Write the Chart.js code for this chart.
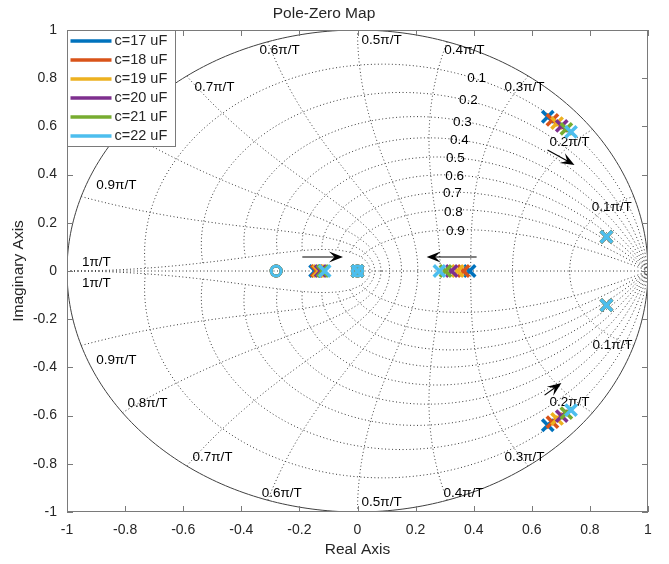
<!DOCTYPE html>
<html>
<head>
<meta charset="utf-8">
<title>Pole-Zero Map</title>
<script src="https://cdn.jsdelivr.net/npm/chart.js@4.4.1/dist/chart.umd.min.js"></script>
<style>
  body { margin: 0; background: #fff; }
  canvas { display: block; }
</style>
</head>
<body>
<canvas id="pz" width="669" height="564"></canvas>
<script>
// values
const seriesLabels = ['c=17 uF', 'c=18 uF', 'c=19 uF', 'c=20 uF', 'c=21 uF', 'c=22 uF'];
const seriesColors = ['#0072BD', '#D95319', '#EDB120', '#7E2F8E', '#77AC30', '#4DBEEE'];

// poles that move with c
const realPole1 = [0.386, 0.365, 0.345, 0.324, 0.303, 0.282];
const realPole2 = [-0.146, -0.140, -0.134, -0.127, -0.120, -0.113];
const cplxPoleRe = [0.655, 0.671, 0.687, 0.703, 0.719, 0.735];
const cplxPoleIm = [0.640, 0.627, 0.614, 0.602, 0.590, 0.577];
// poles and zeros shared by every c
const fixedPoleRe = [0.857, 0.857, 0];
const fixedPoleIm = [0.142, -0.142, 0];
const zeroRe = [0, -0.28];
const zeroIm = [0, 0];

const axisTicks = [-1, -0.8, -0.6, -0.4, -0.2, 0, 0.2, 0.4, 0.6, 0.8, 1];

// zgrid: damping ratios and natural frequencies (multiples of pi/T)
const zetaGrid = [0.1, 0.2, 0.3, 0.4, 0.5, 0.6, 0.7, 0.8, 0.9];
const wnGrid = [0.1, 0.2, 0.3, 0.4, 0.5, 0.6, 0.7, 0.8, 0.9, 1];
const wnLabels = ['0.1π/T', '0.2π/T', '0.3π/T', '0.4π/T', '0.5π/T', '0.6π/T', '0.7π/T', '0.8π/T', '0.9π/T', '1π/T'];
const wnUpperX = [0.875, 0.73, 0.575, 0.368, 0.083, -0.268, -0.492, -0.72, -0.83, -0.899];
const wnUpperY = [0.266, 0.535, 0.764, 0.917, 0.959, 0.917, 0.764, 0.535, 0.357, 0.037];
const wnLowerX = [0.878, 0.73, 0.575, 0.365, 0.083, -0.261, -0.499, -0.723, -0.83, -0.899];
const wnLowerY = [-0.307, -0.544, -0.772, -0.921, -0.959, -0.921, -0.772, -0.548, -0.369, -0.05];
const zetaLabelX = [0.410, 0.382, 0.361, 0.351, 0.337, 0.334, 0.327, 0.330, 0.337];
const zetaLabelY = [0.801, 0.710, 0.618, 0.544, 0.469, 0.394, 0.324, 0.245, 0.166];

// arrows showing the direction of movement as c grows
const arrowFrom = [[-0.19, 0.058], [0.41, 0.058], [0.654, 0.502], [0.644, -0.515]];
const arrowTo = [[-0.05, 0.058], [0.238, 0.058], [0.747, 0.44], [0.702, -0.465]];

const FONT = '"Liberation Sans", Arial, Helvetica, sans-serif';
const TEXT = '#262626';

const datasets = [];
seriesLabels.forEach((label, i) => {
  const poles = [
    { x: realPole1[i], y: 0 },
    { x: realPole2[i], y: 0 },
    { x: cplxPoleRe[i], y: cplxPoleIm[i] },
    { x: cplxPoleRe[i], y: -cplxPoleIm[i] }
  ];
  fixedPoleRe.forEach((re, j) => poles.push({ x: re, y: fixedPoleIm[j] }));
  datasets.push({
    label: label,
    data: poles,
    pointStyle: 'crossRot',
    pointRadius: 8,
    borderWidth: 3.5,
    borderColor: seriesColors[i],
    backgroundColor: seriesColors[i],
    order: 5 - i
  });
  datasets.push({
    label: label + ' zeros',
    data: zeroRe.map((re, j) => ({ x: re, y: zeroIm[j] })),
    pointStyle: 'circle',
    pointRadius: 5,
    borderWidth: 3,
    borderColor: seriesColors[i],
    backgroundColor: 'rgba(0,0,0,0)',
    order: 5 - i
  });
});

// the z-plane grid, drawn under the markers
const zgridPlugin = {
  id: 'zgrid',
  beforeDatasetsDraw(chart) {
    const { ctx, chartArea: a, scales: { x, y } } = chart;
    const px = v => x.getPixelForValue(v), py = v => y.getPixelForValue(v);
    ctx.save();
    ctx.beginPath();
    ctx.rect(a.left, a.top, a.width, a.height);
    ctx.clip();
    ctx.strokeStyle = '#333';
    ctx.lineWidth = 1;
    ctx.setLineDash([1, 2.5]);
    const curve = f => {
      for (const s of [1, -1]) {
        ctx.beginPath();
        for (let i = 0; i <= 240; i++) {
          const [r, th] = f(i / 240);
          const xx = px(r * Math.cos(th)), yy = py(s * r * Math.sin(th));
          if (i) ctx.lineTo(xx, yy); else ctx.moveTo(xx, yy);
        }
        ctx.stroke();
      }
    };
    zetaGrid.forEach(z => curve(t => {
      const wn = t * Math.PI;
      return [Math.exp(-z * wn), wn * Math.sqrt(1 - z * z)];
    }));
    wnGrid.forEach(k => curve(t => {
      const wn = k * Math.PI;
      return [Math.exp(-t * wn), wn * Math.sqrt(1 - t * t)];
    }));
    ctx.beginPath();
    ctx.moveTo(px(-1), py(0));
    ctx.lineTo(px(1), py(0));
    ctx.stroke();
    // unit circle
    ctx.setLineDash([]);
    ctx.strokeStyle = '#404040';
    ctx.lineWidth = 1;
    ctx.beginPath();
    for (let i = 0; i <= 360; i++) {
      const th = i * Math.PI / 180;
      const xx = px(Math.cos(th)), yy = py(Math.sin(th));
      if (i) ctx.lineTo(xx, yy); else ctx.moveTo(xx, yy);
    }
    ctx.stroke();
    ctx.restore();

    ctx.save();
    ctx.font = '13.5px ' + FONT;
    ctx.fillStyle = '#000';
    ctx.textAlign = 'center';
    ctx.textBaseline = 'middle';
    wnLabels.forEach((t, i) => {
      ctx.fillText(t, px(wnUpperX[i]), py(wnUpperY[i]));
      ctx.fillText(t, px(wnLowerX[i]), py(wnLowerY[i]));
    });
    zetaGrid.forEach((z, i) => ctx.fillText(String(z), px(zetaLabelX[i]), py(zetaLabelY[i])));
    ctx.restore();
  },
  afterDraw(chart) {
    const { ctx, chartArea: a, scales: { x, y } } = chart;
    const px = v => x.getPixelForValue(v), py = v => y.getPixelForValue(v);
    ctx.save();
    // arrows
    ctx.strokeStyle = '#000';
    ctx.fillStyle = '#000';
    ctx.lineWidth = 1.2;
    arrowFrom.forEach((p, i) => {
      const x0 = px(p[0]), y0 = py(p[1]), x1 = px(arrowTo[i][0]), y1 = py(arrowTo[i][1]);
      const ang = Math.atan2(y1 - y0, x1 - x0);
      const L = 14, W = 5.5;
      ctx.beginPath();
      ctx.moveTo(x0, y0);
      ctx.lineTo(x1 - 6 * Math.cos(ang), y1 - 6 * Math.sin(ang));
      ctx.stroke();
      const bx = x1 - L * Math.cos(ang), by = y1 - L * Math.sin(ang);
      const nx = -Math.sin(ang), ny = Math.cos(ang);
      ctx.beginPath();
      ctx.moveTo(x1, y1);
      ctx.lineTo(bx + W * nx, by + W * ny);
      ctx.lineTo(x1 - 0.6 * L * Math.cos(ang), y1 - 0.6 * L * Math.sin(ang));
      ctx.lineTo(bx - W * nx, by - W * ny);
      ctx.closePath();
      ctx.fill();
    });

    // axes box with inward ticks
    ctx.strokeStyle = '#7a7a7a';
    ctx.lineWidth = 1;
    ctx.strokeRect(a.left + 0.5, a.top + 0.5, a.width - 1, a.height - 1);
    ctx.beginPath();
    axisTicks.forEach(v => {
      const xx = Math.round(px(v)) + 0.5, yy = Math.round(py(v)) + 0.5;
      ctx.moveTo(xx, a.bottom); ctx.lineTo(xx, a.bottom - 6);
      ctx.moveTo(xx, a.top); ctx.lineTo(xx, a.top + 6);
      ctx.moveTo(a.left, yy); ctx.lineTo(a.left + 6, yy);
      ctx.moveTo(a.right, yy); ctx.lineTo(a.right - 6, yy);
    });
    ctx.stroke();

    // legend, top-left inside the axes
    const lx = a.left + 0.5, ly = a.top + 0.5, lw = 108, lh = 116;
    ctx.fillStyle = '#fff';
    ctx.fillRect(lx, ly, lw, lh);
    ctx.strokeStyle = '#7a7a7a';
    ctx.strokeRect(lx, ly, lw, lh);
    ctx.font = '14.5px ' + FONT;
    ctx.textBaseline = 'middle';
    ctx.textAlign = 'left';
    seriesLabels.forEach((label, i) => {
      const ry = ly + 10.5 + i * 19;
      ctx.strokeStyle = seriesColors[i];
      ctx.lineWidth = 3.5;
      ctx.beginPath();
      ctx.moveTo(lx + 3, ry);
      ctx.lineTo(lx + 44, ry);
      ctx.stroke();
      ctx.fillStyle = TEXT;
      ctx.fillText(label, lx + 47, ry);
    });
    ctx.restore();
  }
};

new Chart(document.getElementById('pz'), {
  type: 'scatter',
  data: { datasets: datasets },
  options: {
    responsive: false,
    animation: false,
    devicePixelRatio: 1,
    events: [],
    layout: { padding: { right: 21 } },
    plugins: {
      legend: { display: false },
      tooltip: { enabled: false },
      title: {
        display: true,
        text: 'Pole-Zero Map',
        color: TEXT,
        font: { family: FONT, size: 15.5, weight: 'normal' },
        padding: { top: 4, bottom: 7.4 }
      }
    },
    scales: {
      x: {
        type: 'linear',
        min: -1,
        max: 1,
        afterBuildTicks: s => { s.ticks = axisTicks.map(v => ({ value: v })); },
        afterFit: s => { s.height = 52; },
        grid: { display: false, drawTicks: false },
        border: { display: false },
        ticks: { color: TEXT, padding: 10, maxRotation: 0, font: { family: FONT, size: 14 }, callback: v => String(v) },
        title: { display: true, text: 'Real Axis', color: TEXT, font: { family: FONT, size: 15.5 }, padding: { bottom: 5 } }
      },
      y: {
        type: 'linear',
        min: -1,
        max: 1,
        afterBuildTicks: s => { s.ticks = axisTicks.map(v => ({ value: v })); },
        afterFit: s => { s.width = 67; },
        grid: { display: false, drawTicks: false },
        border: { display: false },
        ticks: { color: TEXT, padding: 10, font: { family: FONT, size: 14 }, callback: v => String(v) },
        title: { display: true, text: 'Imaginary Axis', color: TEXT, font: { family: FONT, size: 15.5 }, padding: { top: 9 } }
      }
    }
  },
  plugins: [zgridPlugin]
});
</script>
</body>
</html>
